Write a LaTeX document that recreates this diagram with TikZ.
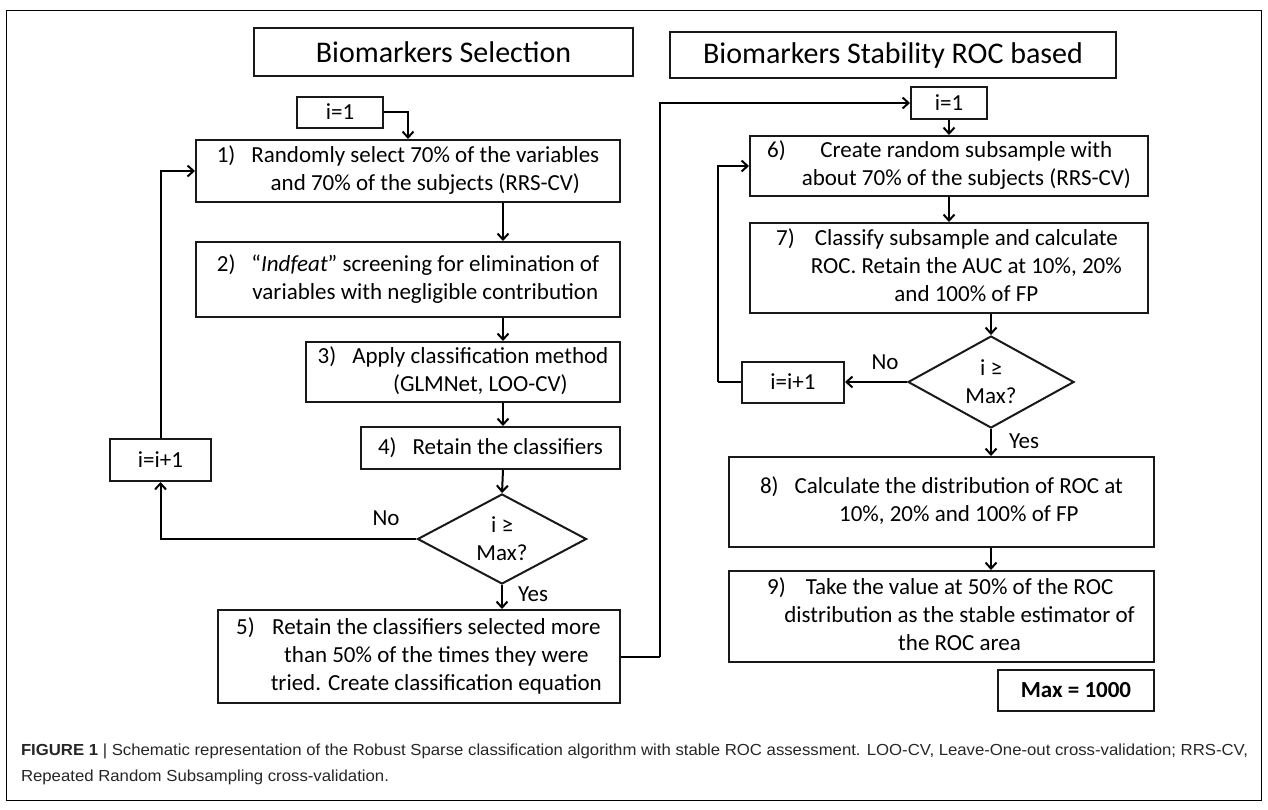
\documentclass[tikz,border=0pt]{standalone}
\usepackage{fontspec}
\setmainfont{Carlito}
\newfontfamily\capfont{Liberation Sans}
\usepackage{graphicx}
\usetikzlibrary{
  arrows.meta,
  shapes.geometric,
  chains,
  positioning,
  scopes
}

\begin{document}
\begin{tikzpicture}[
      x=1pt,y=-1pt,
      line width=2pt,
      dims/.style 2 args={minimum width=#1pt, minimum height=#2pt},
      box/.style={
         rectangle,
         draw=black!90,
         inner sep=0pt,
         font=\fontsize{23}{28}\selectfont
      },
      header/.style={
         box,
         font=\fontsize{30}{36}\selectfont
      },
      decision/.style={
         diamond,
         draw=black!90,
         inner sep=0pt,
         aspect=1.85,
         align=center,
         font=\fontsize{23}{28}\selectfont
      },
      answer/.style={font=\fontsize{23}{28}\selectfont, inner sep=0pt},
      figcap/.style={font=\capfont\fontsize{16}{19}\selectfont, inner sep=0pt, text=black!85},
      point/.style={coordinate},
      tip/.style={-{Straight Barb[length=6pt,width=11pt]}},
      hv path/.style={to path={-| (\tikztotarget)}},
      vh path/.style={to path={|- (\tikztotarget)}}
    ]
    \useasboundingbox (0,0) rectangle (1268,809);
    \draw[line width=1pt] (6,10) rectangle (1261,800);

    % left column
    \node (t1) [header, dims={379}{48}] at (443.5,52) {Biomarkers Selection};
    \node (n01) [box, dims={86}{31}] at (340,112) {i=1};
    \node (n1) [box, dims={424}{62}] at (408,171) {\begin{tabular}{@{}l@{\hspace{16pt}}c@{}}1) & Randomly select 70\% of the variables\\ & and 70\% of the subjects (RRS-CV)\end{tabular}};
    \node (n2) [box, dims={424}{75}] at (408,279.5) {\begin{tabular}{@{}l@{\hspace{16pt}}c@{}}2) & “\textit{Indfeat}” screening for elimination of\\ & variables with negligible contribution\end{tabular}};
    \node (n3) [box, dims={314}{60}] at (463,372) {\begin{tabular}{@{}l@{\hspace{16pt}}c@{}}3) & Apply classification method\\ & (GLMNet, LOO-CV)\end{tabular}};
    \node (n4) [box, dims={259}{42}] at (490.5,448) {4)\hspace{16pt}Retain the classifiers};
    \node (d1) [decision, dims={169}{90}] at (502,539) {i ≥\\Max?};
    \node (n11) [box, dims={101}{42}] at (160.5,460) {i=i+1};
    \node (n5) [box, dims={402}{93}] at (419,656.5) {\begin{tabular}{@{}l@{\hspace{16pt}}c@{}}5) & Retain the classifiers selected more\\ & than 50\% of the times they were\\ & tried. Create classification equation\end{tabular}};
    \node (no1) [answer] at (386,518) {No};
    \node (yes1) [answer] at (533,594) {Yes};
    \coordinate (colL) at (503,0);

    % right column
    \node (t2) [header, dims={446}{46}] at (893,55) {Biomarkers Stability ROC based};
    \node (n02) [box, dims={76}{32}] at (949,103) {i=1};
    \node (n6) [box, dims={398}{60}] at (949,166) {\begin{tabular}{@{}l@{\hspace{16pt}}c@{}}6) & Create random subsample with\\ & about 70\% of the subjects (RRS-CV)\end{tabular}};
    \node (n7) [box, dims={398}{90}] at (949,268) {\begin{tabular}{@{}l@{\hspace{16pt}}c@{}}7) & Classify subsample and calculate\\ & ROC. Retain the AUC at 10\%, 20\%\\ & and 100\% of FP\end{tabular}};
    \node (d2) [decision, dims={166}{92}] at (991,382) {i ≥\\Max?};
    \node (n12) [box, dims={102}{41}] at (793,382) {i=i+1};
    \node (n8) [box, dims={425}{90}] at (941.5,502) {\begin{tabular}{@{}l@{\hspace{16pt}}c@{}}8) & Calculate the distribution of ROC at\\ & 10\%, 20\% and 100\% of FP\end{tabular}};
    \node (n9) [box, dims={425}{91}] at (941.5,616.5) {\begin{tabular}{@{\hspace{36pt}}c@{}}\llap{9)\hspace{20pt}}Take the value at 50\% of the ROC\\distribution as the stable estimator of\\the ROC area\end{tabular}};
    \node (nmax) [box, dims={156}{41}] at (1076,690.5) {\textbf{Max = 1000}};
    \node (no2) [answer] at (885,362) {No};
    \node (yes2) [answer] at (1024,441) {Yes};

    \node (p5) [point] at (660,656.5) {};
    \node (p12) [point] at (718,382) {};

    % caption
    \node (cap1) [figcap, anchor=base west] at (20,755) {\resizebox{1227pt}{\height}{\textbf{FIGURE 1} | Schematic representation of the Robust Sparse classification algorithm with stable ROC assessment. LOO-CV, Leave-One-out cross-validation; RRS-CV,}};
    \node (cap2) [figcap, anchor=base west] at (20,781) {\resizebox{368pt}{\height}{Repeated Random Subsampling cross-validation.}};

  { [start chain]
       \chainin (n01);
       \chainin (n1)    [join=by {hv path,tip}];
  }
  { [start chain]
       \chainin (d1);
       \chainin (n11)    [join=by {hv path,tip}];
  }
  { [start chain]
       \chainin (n11);
       \chainin (n1)    [join=by {vh path,tip}];
  }
  { [start chain]
       \chainin (n5);
       \chainin (p5)    [join];
       \chainin (n02)    [join=by {vh path,tip}];
  }
  { [start chain]
       \chainin (d2);
       \chainin (n12)    [join=by tip];
  }
  { [start chain]
       \chainin (n12);
       \chainin (p12)    [join];
       \chainin (n6)    [join=by {vh path,tip}];
  }
    \draw[tip] (n1.south -| colL) -- (n2.north -| colL);
    \draw[tip] (n2.south -| colL) -- (n3.north -| colL);
    \draw[tip] (n3.south -| colL) -- (n4.north -| colL);
    \draw[tip] (n4.south -| colL) -- (d1.north);
    \draw[tip] (d1.south) -- (n5.north -| d1);
    \draw[tip] (n02.south) -- (n6.north -| n02);
    \draw[tip] (n6.south -| n02) -- (n7.north -| n02);
    \draw[tip] (n7.south -| d2) -- (d2.north);
    \draw[tip] (d2.south) -- (n8.north -| d2);
    \draw[tip] (n8.south -| d2) -- (n9.north -| d2);
\end{tikzpicture}
\end{document}
